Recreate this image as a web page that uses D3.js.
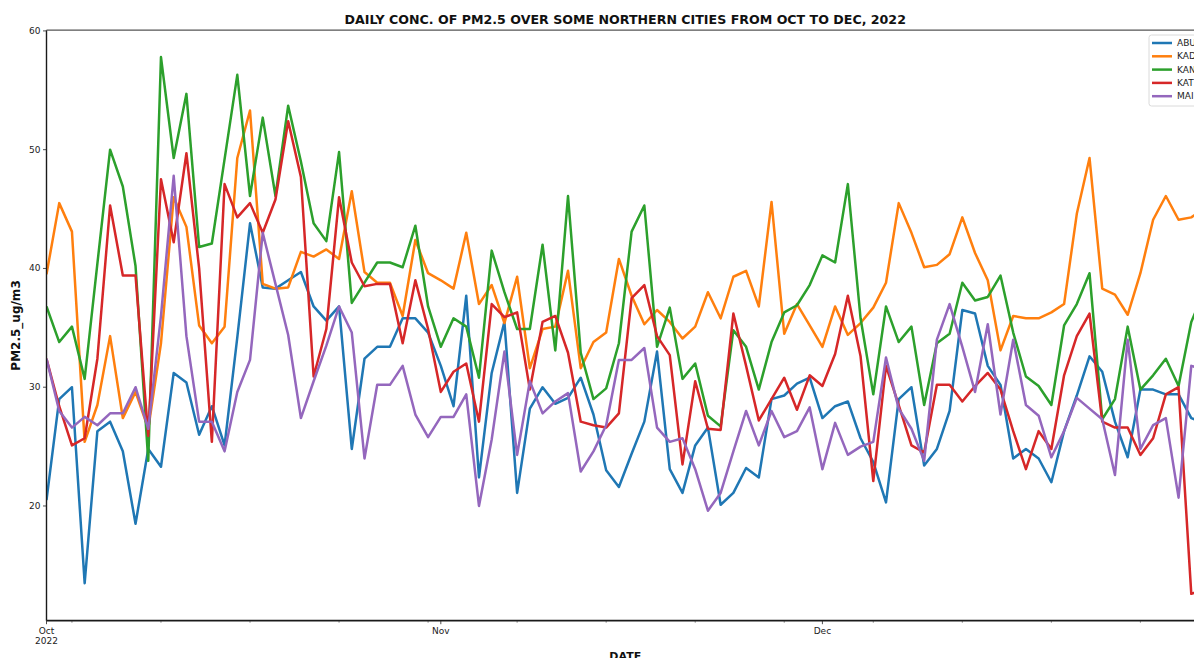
<!DOCTYPE html>
<html>
<head>
<meta charset="utf-8">
<script src="https://cdn.jsdelivr.net/npm/d3@7"></script>
<style>
  html, body { margin: 0; padding: 0; background: #fff; overflow: hidden; }
  svg { display: block; font-family: "DejaVu Sans", sans-serif; }
</style>
</head>
<body>
<svg id="chart" width="1194" height="658"></svg>
<script>
// Daily PM2.5 concentration (ug/m3), 1 Oct – 31 Dec 2022
const cities = ["ABU", "KAD", "KAN", "KAT", "MAI"];

const ABU = [20.5, 29.0, 30.0, 13.5, 26.3, 27.1, 24.6, 18.5, 24.8, 23.3, 31.2, 30.4,
  26.0, 28.4, 25.1, 34.2, 43.8, 38.4, 38.3, 39.0, 39.7, 36.8, 35.6,
  36.8, 24.8, 32.4, 33.4, 33.4, 35.8, 35.8, 34.6, 31.8, 28.4, 37.7,
  22.4, 31.2, 35.5, 21.1, 28.2, 30.0, 28.6, 29.1, 30.8, 27.7, 23.0,
  21.6, 24.4, 27.1, 33.0, 23.1, 21.1, 25.1, 26.6, 20.1, 21.1, 23.2,
  22.4, 29.0, 29.3, 30.3, 30.8, 27.4, 28.4, 28.8, 25.7, 23.7, 20.3,
  29.0, 30.0, 23.4, 24.8, 28.0, 36.5, 36.2, 31.8, 30.2, 24.0, 24.8,
  24.0, 22.0, 26.3, 29.3, 32.6, 31.3, 27.1, 24.1, 29.8, 29.8, 29.4, 29.4, 27.4, 27.0];

const KAD = [39.5, 45.5, 43.1, 25.4, 28.5, 34.3, 27.4, 29.6, 26.5, 33.7, 46.0, 43.5,
  35.2, 33.7, 35.1, 49.3, 53.3, 38.7, 38.3, 38.4, 41.4, 41.0, 41.6,
  40.8, 46.5, 39.7, 38.8, 38.8, 36.0, 42.4, 39.6, 39.0, 38.3, 43.0,
  37.0, 38.6, 35.4, 39.3, 31.6, 34.9, 35.1, 39.8, 31.6, 33.8, 34.6,
  40.8, 37.7, 35.3, 36.5, 35.5, 34.1, 35.1, 38.0, 35.8, 39.3, 39.8,
  36.8, 45.6, 34.5, 37.0, 35.2, 33.4, 36.8, 34.4, 35.4, 36.7, 38.8,
  45.5, 43.0, 40.1, 40.3, 41.2, 44.3, 41.3, 39.0, 33.1, 36.0, 35.8,
  35.8, 36.3, 37.0, 44.6, 49.3, 38.3, 37.8, 36.1, 39.6, 44.1, 46.1, 44.1, 44.3, 45.0];

const KAN = [36.8, 33.8, 35.1, 30.7, 40.4, 50.0, 46.9, 40.2, 23.8, 57.8, 49.3, 54.7,
  41.8, 42.1, 49.2, 56.3, 46.1, 52.7, 46.1, 53.7, 49.0, 43.8, 42.3,
  49.8, 37.1, 38.8, 40.5, 40.5, 40.1, 43.6, 36.8, 33.4, 35.8, 35.1,
  30.8, 41.5, 38.0, 34.9, 34.9, 42.0, 33.1, 46.1, 32.9, 29.0, 29.9,
  33.7, 43.1, 45.3, 33.4, 36.7, 30.7, 32.0, 27.6, 26.7, 34.8, 33.4,
  29.8, 33.8, 36.3, 36.9, 38.6, 41.1, 40.5, 47.1, 35.8, 29.4, 36.8,
  33.8, 35.1, 28.5, 33.7, 34.5, 38.8, 37.3, 37.6, 39.4, 34.6, 30.9,
  30.1, 28.5, 35.2, 37.0, 39.6, 27.3, 29.0, 35.1, 29.8, 31.0, 32.4, 30.1, 35.5, 38.0];

const KAT = [32.4, 28.4, 25.1, 25.7, 32.4, 45.3, 39.4, 39.4, 25.9, 47.5, 42.2, 49.7,
  40.0, 25.4, 47.1, 44.3, 45.5, 43.0, 45.8, 52.4, 47.7, 30.9, 34.9,
  46.0, 40.5, 38.5, 38.7, 38.7, 33.7, 39.0, 34.9, 29.6, 31.3, 32.0,
  27.1, 37.0, 35.9, 36.3, 29.8, 35.5, 36.0, 32.9, 27.1, 26.8, 26.6,
  27.8, 37.5, 38.6, 34.3, 32.7, 23.5, 30.5, 26.5, 26.4, 36.2, 31.8,
  27.2, 29.0, 30.8, 28.1, 31.0, 30.1, 32.8, 37.7, 32.6, 22.1, 31.8,
  28.5, 25.1, 24.5, 30.2, 30.2, 28.8, 30.1, 31.2, 29.8, 26.3, 23.1,
  26.3, 24.8, 31.0, 34.3, 36.2, 27.1, 26.6, 26.6, 24.3, 25.7, 29.4, 30.0, 12.6, 13.0];

const MAI = [32.4, 28.0, 26.6, 27.5, 26.8, 27.8, 27.8, 30.0, 26.5, 36.0, 47.8, 34.3,
  27.1, 27.1, 24.6, 29.6, 32.3, 43.0, 38.7, 34.4, 27.4, 30.5, 33.5,
  36.8, 34.6, 24.0, 30.2, 30.2, 31.8, 27.7, 25.8, 27.5, 27.5, 29.4,
  20.0, 25.6, 33.0, 24.3, 30.5, 27.8, 28.8, 29.5, 22.9, 24.6, 26.8,
  32.3, 32.3, 33.3, 26.6, 25.4, 25.7, 23.1, 19.6, 21.1, 24.6, 28.0,
  25.1, 28.0, 25.8, 26.3, 28.3, 23.1, 27.0, 24.3, 25.0, 25.4, 32.5,
  28.2, 26.5, 23.8, 34.0, 37.0, 33.4, 29.6, 35.3, 27.7, 34.0, 28.5,
  27.6, 24.1, 26.3, 29.1, 28.2, 27.3, 22.6, 34.0, 24.8, 26.8, 27.4, 20.7, 31.8, 31.5];

const seriesValues = [ABU, KAD, KAN, KAT, MAI];
const colors = ["#1f77b4", "#ff7f0e", "#2ca02c", "#d62728", "#9467bd"];
const yTicks = [20, 30, 40, 50, 60];
const monthTickLabels = [["Oct", "2022"], ["Nov"], ["Dec"]];

const titleText = "DAILY CONC. OF PM2.5 OVER SOME NORTHERN CITIES FROM OCT TO DEC, 2022";
const xLabel = "DATE";
const yLabel = "PM2.5_ug/m3";

// ---- layout ----
const plot = { left: 46.5, right: 1204, top: 30.2, bottom: 620.7 };

const dates = d3.utcDay.range(new Date(Date.UTC(2022, 9, 1)), new Date(Date.UTC(2023, 0, 1)));

const x = d3.scaleUtc()
  .domain([dates[0], dates[dates.length - 1]])
  .range([plot.left, plot.right]);

const allVals = seriesValues.flat();
const lo = d3.min(allVals), hi = d3.max(allVals);
const pad = (hi - lo) * 0.05;
const y = d3.scaleLinear()
  .domain([lo - pad, hi + pad])
  .range([plot.bottom, plot.top]);

const svg = d3.select("#chart");

svg.append("defs").append("clipPath").attr("id", "plotClip")
  .append("rect")
  .attr("x", plot.left).attr("y", plot.top)
  .attr("width", plot.right - plot.left).attr("height", plot.bottom - plot.top);

// ---- series lines ----
const line = d3.line()
  .x((d, i) => x(dates[i]))
  .y(d => y(d));

const linesG = svg.append("g").attr("clip-path", "url(#plotClip)");
seriesValues.forEach((vals, k) => {
  linesG.append("path")
    .datum(vals)
    .attr("fill", "none")
    .attr("stroke", colors[k])
    .attr("stroke-width", 2.5)
    .attr("stroke-linejoin", "round")
    .attr("stroke-linecap", "butt")
    .attr("d", line);
});

// ---- frame ----
const frame = svg.append("g").attr("stroke", "#1a1a1a").attr("fill", "none");
frame.append("line").attr("x1", plot.left).attr("x2", plot.left)
  .attr("y1", plot.top).attr("y2", plot.bottom).attr("stroke-width", 1.4);
frame.append("line").attr("x1", plot.left).attr("x2", plot.right)
  .attr("y1", plot.bottom).attr("y2", plot.bottom).attr("stroke-width", 1.8);
frame.append("line").attr("x1", plot.left).attr("x2", plot.right)
  .attr("y1", plot.top).attr("y2", plot.top).attr("stroke-width", 1.2).attr("stroke", "#555");
frame.append("line").attr("x1", plot.right).attr("x2", plot.right)
  .attr("y1", plot.top).attr("y2", plot.bottom).attr("stroke-width", 1.2);

// ---- y axis ----
const yAxis = svg.append("g");
yTicks.forEach(t => {
  const yy = y(t);
  yAxis.append("line").attr("x1", plot.left - 3.5).attr("x2", plot.left)
    .attr("y1", yy).attr("y2", yy).attr("stroke", "#222").attr("stroke-width", 0.8);
  yAxis.append("text").attr("x", plot.left - 6).attr("y", yy)
    .attr("text-anchor", "end").attr("dominant-baseline", "central")
    .attr("font-size", 9).attr("fill", "#222").text(t);
});

// ---- x axis: monthly major ticks, weekly (Monday) minor ticks ----
const xAxis = svg.append("g");
const months = d3.utcMonth.range(dates[0], new Date(Date.UTC(2023, 0, 1)));
const mondays = d3.utcMonday.range(dates[0], dates[dates.length - 1]);
mondays.forEach(d => {
  const xx = x(d);
  xAxis.append("line").attr("x1", xx).attr("x2", xx)
    .attr("y1", plot.bottom).attr("y2", plot.bottom + 2)
    .attr("stroke", "#333").attr("stroke-width", 0.6);
});
months.forEach((d, i) => {
  const xx = x(d);
  xAxis.append("line").attr("x1", xx).attr("x2", xx)
    .attr("y1", plot.bottom).attr("y2", plot.bottom + 3.5)
    .attr("stroke", "#222").attr("stroke-width", 0.8);
  const txt = xAxis.append("text").attr("x", xx).attr("y", plot.bottom + 13)
    .attr("text-anchor", "middle").attr("font-size", 9).attr("fill", "#222");
  monthTickLabels[i].forEach((s, j) => {
    txt.append("tspan").attr("x", xx).attr("dy", j === 0 ? 0 : 10).text(s);
  });
});

// ---- titles ----
const title = svg.append("text")
  .attr("x", (plot.left + plot.right) / 2).attr("y", 24)
  .attr("text-anchor", "middle").attr("font-weight", "bold")
  .attr("font-size", 12.5).attr("fill", "#111").text(titleText);
const tw = title.node().getComputedTextLength();
title.attr("font-size", 12.5 * 562 / tw);

svg.append("text")
  .attr("x", (plot.left + plot.right) / 2).attr("y", 660)
  .attr("text-anchor", "middle").attr("font-weight", "bold")
  .attr("font-size", 11).attr("fill", "#111").text(xLabel);

svg.append("text")
  .attr("transform", `translate(20, ${(plot.top + plot.bottom) / 2}) rotate(-90)`)
  .attr("text-anchor", "middle").attr("font-weight", "bold")
  .attr("font-size", 12).attr("fill", "#111").text(yLabel);

// ---- legend ----
const legend = svg.append("g").attr("transform", "translate(1149, 35)");
legend.append("rect")
  .attr("x", 0).attr("y", 0).attr("width", 90).attr("height", 71)
  .attr("rx", 2.5).attr("fill", "#fff").attr("fill-opacity", 0.85)
  .attr("stroke", "#d0d0d0").attr("stroke-width", 0.8);
cities.forEach((c, i) => {
  const ly = 8 + i * 13.3;
  legend.append("line").attr("x1", 3).attr("x2", 23).attr("y1", ly).attr("y2", ly)
    .attr("stroke", colors[i]).attr("stroke-width", 2.5);
  legend.append("text").attr("x", 28).attr("y", ly)
    .attr("dominant-baseline", "central").attr("font-size", 9).attr("fill", "#222")
    .text(c);
});
</script>
</body>
</html>
